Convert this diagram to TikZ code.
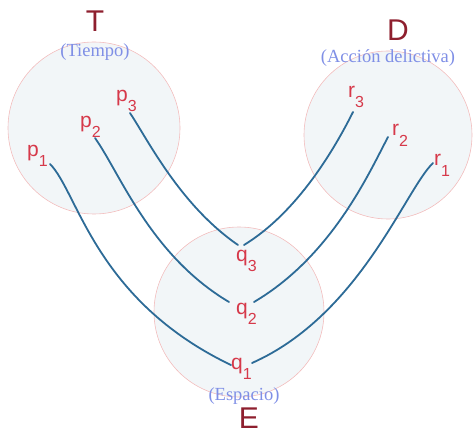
\documentclass[tikz,border=0pt]{standalone}
\usepackage{fontspec}
\setmainfont{Liberation Sans}
\newfontfamily\serifpar{Liberation Serif}
\definecolor{setfill}{HTML}{F2F6F8}
\definecolor{setdraw}{HTML}{F2BDBD}
\definecolor{bigred}{HTML}{8E1F2E}
\definecolor{ptred}{HTML}{D6394A}
\definecolor{parblue}{HTML}{7F8FE6}
\definecolor{curveblue}{HTML}{2D6B97}
\newcommand\sbs[1]{\raisebox{-10pt}{\fontsize{16}{16}\selectfont #1}}
\tikzset{
  setcirc/.style={fill=setfill, draw=setdraw, line width=0.6pt},
  bigname/.style={text=bigred, font=\fontsize{30}{30}\selectfont, inner sep=0pt},
  parname/.style={text=parblue, font=\serifpar\fontsize{18.5}{18.5}\selectfont, inner sep=0pt},
  ptlab/.style={text=ptred, font=\fontsize{21}{21}\selectfont, inner sep=0pt, anchor=base west},
  link/.style={draw=curveblue, line width=1.8pt, line cap=round}
}
\begin{document}
\begin{tikzpicture}[x=1pt, y=-1pt]
\useasboundingbox (0,0) rectangle (474,433);
% sets
\path[setcirc] (94,128) circle[radius=86pt];
\path[setcirc] (388,135) circle[radius=84pt];
\path[setcirc] (239,312) circle[radius=85pt];
% titles
\node[bigname] (T) at (95,21) {T};
\node[bigname] (D) at (398,30) {D};
\node[bigname] (E) at (249,418.5) {E};
\node[parname] (Tt) at (95,52) {(Tiempo)};
\node[parname] (Dt) at (388,58) {(Acción delictiva)};
\node[parname] (Et) at (244,396) {(Espacio)};
% point labels
\node[ptlab] (p1) at (27,157) {p\sbs{1}};
\node[ptlab] (p2) at (80,128) {p\sbs{2}};
\node[ptlab] (p3) at (116,102) {p\sbs{3}};
\node[ptlab] (r3) at (348,97.5) {r\sbs{3}};
\node[ptlab] (r2) at (392,136) {r\sbs{2}};
\node[ptlab] (r1) at (434,166) {r\sbs{1}};
\node[ptlab] (q3) at (236,261) {q\sbs{3}};
\node[ptlab] (q2) at (236,314) {q\sbs{2}};
\node[ptlab] (q1) at (231,369) {q\sbs{1}};
% curve ends
\coordinate (p1e) at (50,164);
\coordinate (p2e) at (95,138);
\coordinate (p3e) at (130,113);
\coordinate (r3e) at (353,112);
\coordinate (r2e) at (388,137);
\coordinate (r1e) at (433,163);
\coordinate (q3l) at (238,245);
\coordinate (q3r) at (244,245);
\coordinate (q2l) at (229,302);
\coordinate (q2r) at (254,302);
\coordinate (q1l) at (231,365);
\coordinate (q1r) at (252,363);
% connectors
\draw[link] (p1e) .. controls (78,192) and (95,300) .. (q1l);
\draw[link] (p2e) .. controls (120,173) and (150,255) .. (q2l);
\draw[link] (p3e) .. controls (148,140) and (180,205) .. (q3l);
\draw[link] (r3e) .. controls (335,148) and (298,212) .. (q3r);
\draw[link] (r2e) .. controls (369,173) and (332,256) .. (q2r);
\draw[link] (r1e) .. controls (405,190) and (360,315) .. (q1r);
\end{tikzpicture}
\end{document}
